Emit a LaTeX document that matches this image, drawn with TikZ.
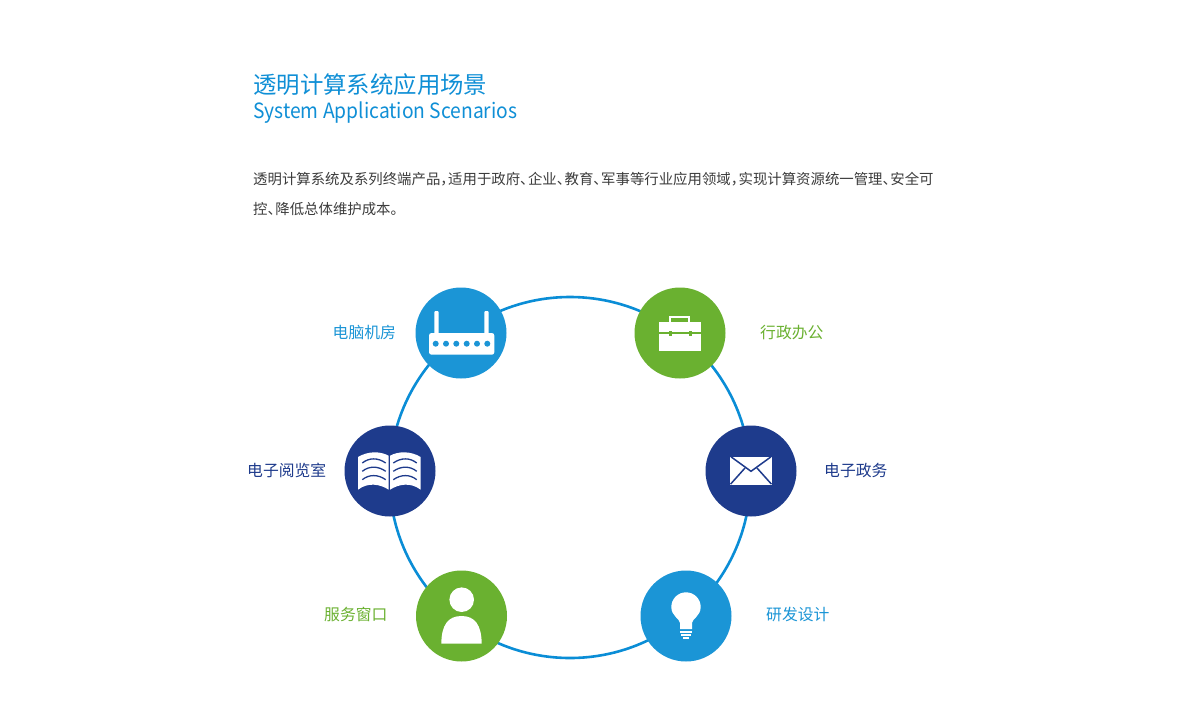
\documentclass[tikz,border=0pt]{standalone}
\usepackage{graphicx}
\usepackage{fontspec}
\setmainfont{Noto Sans CJK SC}
\definecolor{ringblue}{HTML}{0A8DD6}
\definecolor{skyfill}{HTML}{1B95D6}
\definecolor{navyfill}{HTML}{1E3B8C}
\definecolor{greenfill}{HTML}{6AB130}
\definecolor{titleblue}{HTML}{0F8FD6}
\definecolor{bodygrey}{HTML}{3C3C3C}
\newcommand{\pp}[1]{#1\kern-6.6pt\relax}
\tikzset{
  disc/.style={circle,minimum size=91pt,inner sep=0pt,fill=#1},
  lab/.style={anchor=base west,inner sep=0pt,text=#1,font=\fontsize{15.8pt}{18pt}\selectfont},
  bodyline/.style={anchor=base west,inner sep=0pt,text=bodygrey,font=\fontsize{14.4pt}{18pt}\selectfont},
}
\begin{document}
\begin{tikzpicture}[x=1pt,y=-1pt]
\useasboundingbox[fill=white] (0,0) rectangle (1200,707);
% texts
\node[anchor=base west,inner sep=0pt,text=titleblue,font=\fontsize{23.4pt}{26pt}\selectfont] (title) at (253,93) {透明计算系统应用场景};
\node[anchor=base west,inner sep=0pt,text=titleblue,font=\fontsize{21pt}{24pt}\selectfont] (subtitle) at (253,118) {\scalebox{0.917}[1]{System Application Scenarios}};
\node[bodyline] (line1) at (253,184) {透明计算系统及系列终端产品\pp{，}适用于政府\pp{、}企业\pp{、}教育\pp{、}军事等行业应用领域\pp{，}实现计算资源统一管理\pp{、}安全可};
\node[bodyline] (line2) at (253,214) {控\pp{、}降低总体维护成本。};
% ring
\node[circle,draw=ringblue,line width=2.6pt,minimum size=361pt,inner sep=0pt] (ring) at (570,477.5) {};
% discs
\node[disc=skyfill] (router) at (461,333) {};
\node[disc=greenfill] (case) at (680,333) {};
\node[disc=navyfill] (book) at (390,471) {};
\node[disc=navyfill] (mail) at (751,471) {};
\node[disc=greenfill] (person) at (461.5,616) {};
\node[disc=skyfill] (bulb) at (686,616) {};
% labels
\node[lab=skyfill] (lrouter) at (332.5,338) {电脑机房};
\node[lab=greenfill] (lcase) at (760,338) {行政办公};
\node[lab=navyfill] (lbook) at (247,476) {电子阅览室};
\node[lab=navyfill] (lmail) at (824,476) {电子政务};
\node[lab=greenfill] (lperson) at (324,620) {服务窗口};
\node[lab=skyfill] (lbulb) at (766,620) {研发设计};
% router icon
\fill[white,rounded corners=2.5pt] (429,333) rectangle (494.3,354.7);
\fill[white,rounded corners=1pt] (434.3,311) rectangle (438.7,335);
\fill[white,rounded corners=1pt] (484.3,311) rectangle (488.7,335);
\foreach \dx in {435.7,446,456.3,466.7,477,487.3} \fill[skyfill] (\dx,343.7) circle (3pt);
% briefcase icon
\fill[white] (659.3,321.7) rectangle (700.7,350.7);
\fill[white] (669.3,316) rectangle (690.3,322);
\fill[greenfill] (671.3,317.8) rectangle (688.3,322);
\fill[greenfill] (659.3,332) rectangle (700.7,334);
\fill[greenfill] (668.8,330.5) rectangle (671.8,335.5);
\fill[greenfill] (689.4,330.5) rectangle (692.4,335.5);
% book icon
\fill[white] (358,457) .. controls (368,451) and (380,451) .. (388.7,455.7) -- (388.7,489.7) .. controls (380,484) and (368,482) .. (358,489.7) -- cycle;
\fill[white] (420.7,457) .. controls (410.7,451) and (398.7,451) .. (390,455.7) -- (390,489.7) .. controls (398.7,484) and (410.7,482) .. (420.7,489.7) -- cycle;
\foreach \yy in {463,471.3,479.7} {
  \draw[navyfill,line width=1.3pt] (362.3,\yy) .. controls (369,\yy-5.5) and (378,\yy-5.5) .. (385.7,\yy);
  \draw[navyfill,line width=1.3pt] (393.3,\yy) .. controls (401,\yy-5.5) and (410,\yy-5.5) .. (416.7,\yy);
}
% mail icon
\fill[white] (730,457.3) rectangle (772,484.7);
\draw[navyfill,line width=1.5pt] (731,456.8) -- (751,471.3) -- (771,456.8);
\draw[navyfill,line width=1.5pt] (730.5,484.2) -- (745,468);
\draw[navyfill,line width=1.5pt] (771.5,484.2) -- (757,468);
% person icon
\fill[white] (461.7,599.7) circle (12.3pt);
\fill[white] (441.3,643.7) .. controls (441.5,625) and (448,616) .. (461.5,616) .. controls (475,616) and (481.5,625) .. (481.7,643.7) -- cycle;
% bulb icon
\fill[white] (680,629) -- (680,623) .. controls (680,619) and (671.3,616) .. (671.3,607) arc[start angle=180,end angle=0,radius=14.7pt] .. controls (700.7,616) and (692,619) .. (692,623) -- (692,629) -- cycle;
\fill[white] (680,631) rectangle (692.3,633);
\fill[white] (681,634.2) rectangle (691,636);
\fill[white] (683.3,637.3) rectangle (688.7,639.3);
\end{tikzpicture}
\end{document}
